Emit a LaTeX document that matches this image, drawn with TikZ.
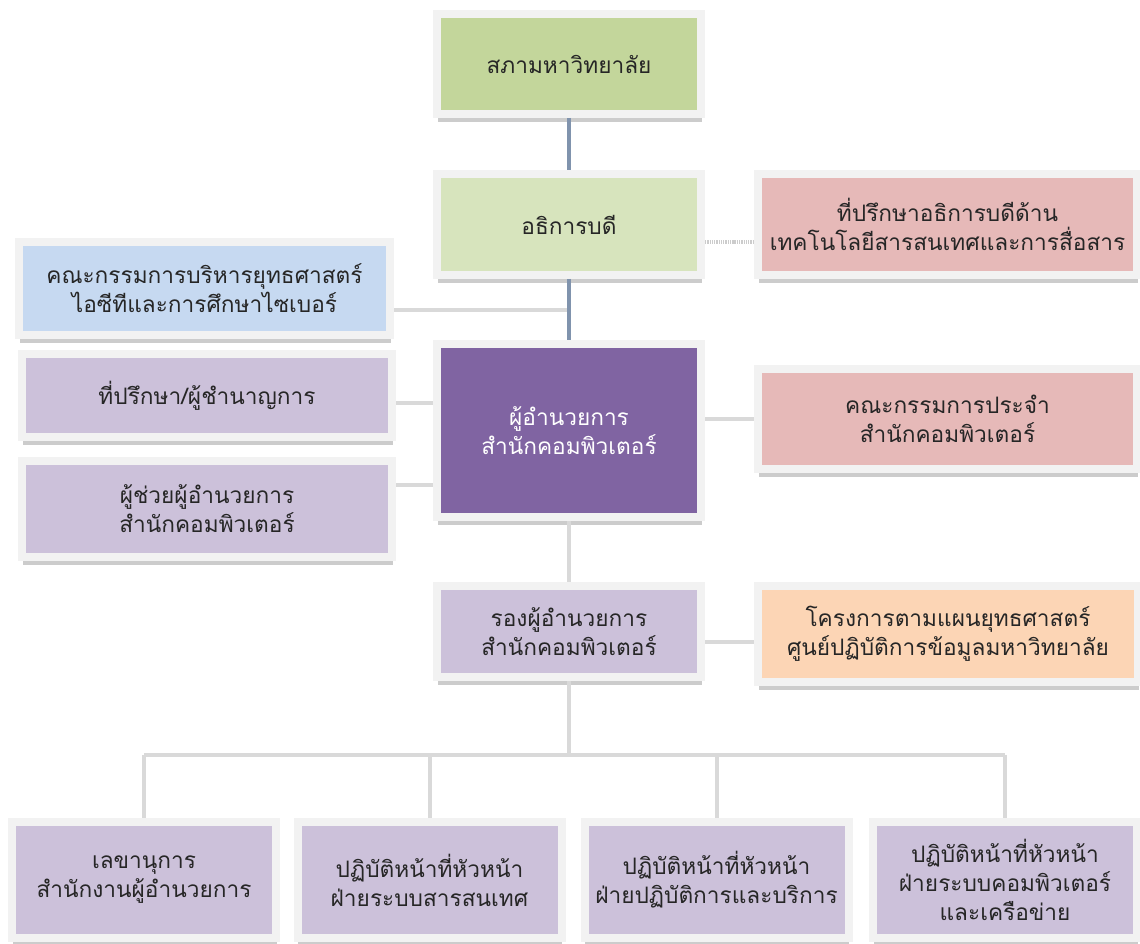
\documentclass[tikz,border=0pt]{standalone}
\usepackage{fontspec}
\setmainfont[Script=Thai]{Loma}
\usetikzlibrary{shadows}
\definecolor{councilgreen}{HTML}{C3D69B}
\definecolor{palegreen}{HTML}{D7E4BD}
\definecolor{rosebox}{HTML}{E6B9B8}
\definecolor{skybox}{HTML}{C6D9F1}
\definecolor{lilacbox}{HTML}{CCC1DA}
\definecolor{plumbox}{HTML}{8064A2}
\definecolor{peachbox}{HTML}{FCD5B5}
\definecolor{slateline}{HTML}{8093AD}
\begin{document}
\begin{tikzpicture}[x=0.75pt,y=-0.75pt,
    unit/.style={draw=black!5, line width=6pt, fill=#1, inner sep=0pt, align=center,
      text=black!85, font=\fontsize{17}{21.75}\selectfont,
      drop shadow={shadow xshift=0.6pt, shadow yshift=-6pt, fill=black!20, opacity=1}},
    link/.style={draw=black!15, line width=3pt},
    mainlink/.style={draw=slateline, line width=2.6pt},
    dotlink/.style={draw=black!20, line width=2.6pt, dash pattern=on 1pt off 0.7pt}]
  \useasboundingbox (0,0) rectangle (1140,944);
  % top of the chart
  \node[unit=councilgreen, minimum width=198pt, minimum height=75pt] (council) at (569,64) {สภามหาวิทยาลัย};
  \node[unit=palegreen, minimum width=198pt, minimum height=75.75pt] (president) at (569,224.5) {อธิการบดี};
  \node[unit=rosebox, minimum width=284.25pt, minimum height=75.75pt] (ictadvisor) at (947.5,224.5) {ที่ปรึกษาอธิการบดีด้าน\\เทคโนโลยีสารสนเทศและการสื่อสาร};
  \node[unit=skybox, minimum width=278.25pt, minimum height=69.75pt] (strategy) at (204.5,288.5) {คณะกรรมการบริหารยุทธศาสตร์\\ไอซีทีและการศึกษาไซเบอร์};
  % director and staff
  \node[unit=plumbox, text=white, minimum width=198pt, minimum height=129.75pt] (director) at (569,430.5) {ผู้อำนวยการ\\สำนักคอมพิวเตอร์};
  \node[unit=lilacbox, minimum width=277.5pt, minimum height=62.25pt] (advisor) at (207,395.5) {ที่ปรึกษา/ผู้ชำนาญการ};
  \node[unit=lilacbox, minimum width=277.5pt, minimum height=72pt] (assistant) at (207,509) {ผู้ช่วยผู้อำนวยการ\\สำนักคอมพิวเตอร์};
  \node[unit=rosebox, minimum width=284.25pt, minimum height=75pt] (board) at (947.5,419) {คณะกรรมการประจำ\\สำนักคอมพิวเตอร์};
  \node[unit=lilacbox, minimum width=198pt, minimum height=68.25pt] (deputy) at (569,631.5) {รองผู้อำนวยการ\\สำนักคอมพิวเตอร์};
  \node[unit=peachbox, minimum width=285pt, minimum height=72pt] (project) at (948,634) {โครงการตามแผนยุทธศาสตร์\\ศูนย์ปฏิบัติการข้อมูลมหาวิทยาลัย};
  % divisions
  \node[unit=lilacbox, minimum width=198pt, minimum height=87pt] (secretary) at (144,880) {เลขานุการ\\สำนักงานผู้อำนวยการ};
  \node[unit=lilacbox, minimum width=198pt, minimum height=87pt] (infosys) at (429.5,880) {ปฏิบัติหน้าที่หัวหน้า\\ฝ่ายระบบสารสนเทศ};
  \node[unit=lilacbox, minimum width=198pt, minimum height=87pt] (operations) at (716.5,880) {ปฏิบัติหน้าที่หัวหน้า\\ฝ่ายปฏิบัติการและบริการ};
  \node[unit=lilacbox, minimum width=198pt, minimum height=87pt] (network) at (1005,880) {ปฏิบัติหน้าที่หัวหน้า\\ฝ่ายระบบคอมพิวเตอร์\\และเครือข่าย};
  % connectors
  \coordinate (ictlink) at ([yshift=-13pt]ictadvisor.west);
  \coordinate (stratlink) at ([yshift=-16pt]strategy.east);
  \coordinate (advlink) at ([yshift=-5.5pt]advisor.east);
  \coordinate (asslink) at ([yshift=18pt]assistant.east);
  \coordinate (projlink) at ([yshift=-6pt]project.west);
  \coordinate (bus) at (569,755);
  \draw[dotlink] (ictlink -| president.east) -- (ictlink);
  \draw[link] (stratlink) -- (stratlink -| president.south);
  \draw[link] (advlink) -- (advlink -| director.west);
  \draw[link] (asslink) -- (asslink -| director.west);
  \draw[link] (board.west -| director.east) -- (board.west);
  \draw[link] (director.south) -- (deputy.north);
  \draw[link] (projlink -| deputy.east) -- (projlink);
  \draw[link] (deputy.south) -- (bus);
  \draw[link] (bus -| secretary.north) -- (bus -| network.north);
  \foreach \unitname in {secretary,infosys,operations,network}
    \draw[link] (bus -| \unitname.north) -- (\unitname.north);
  \draw[mainlink] (council.south) -- (president.north);
  \draw[mainlink] (president.south) -- (director.north);
\end{tikzpicture}
\end{document}
